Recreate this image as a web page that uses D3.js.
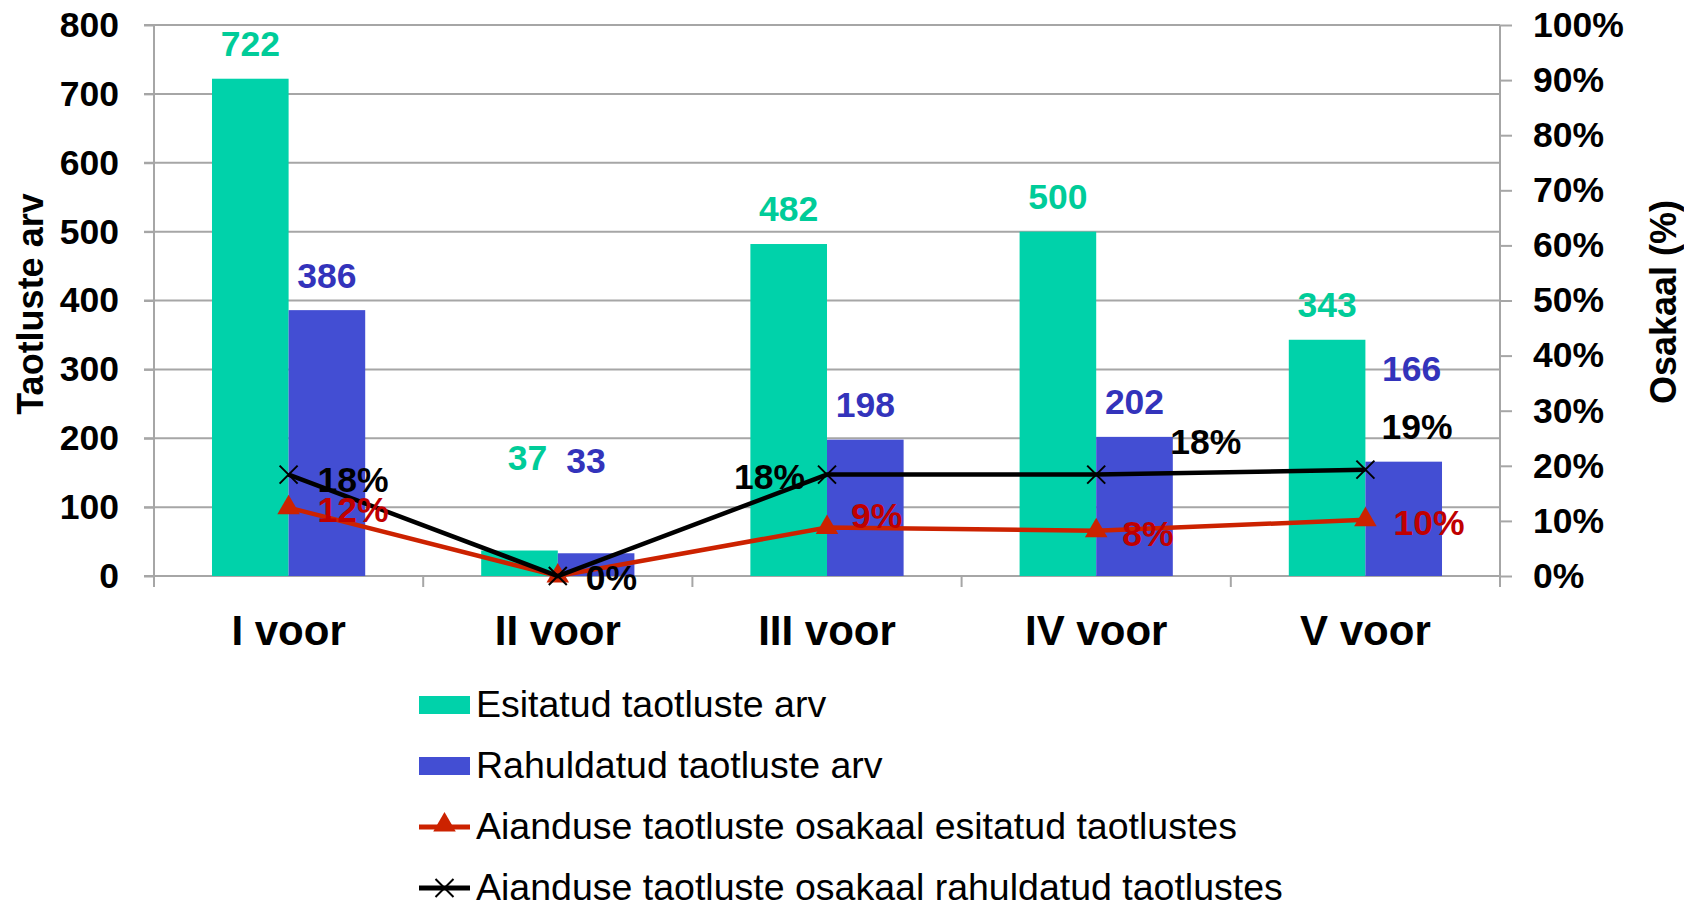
<!DOCTYPE html>
<html>
<head>
<meta charset="utf-8">
<script src="https://cdn.jsdelivr.net/npm/d3@7"></script>
<style>
  body { margin: 0; background: #fff; }
  text { font-family: "Liberation Sans", Arial, sans-serif; }
</style>
</head>
<body>
<svg id="chart" width="1684" height="910"></svg>
<script>
// data
var categories = ["I voor", "II voor", "III voor", "IV voor", "V voor"];
var esitatud = [722, 37, 482, 500, 343];
var rahuldatud = [386, 33, 198, 202, 166];
var osakaalEsitatud = [0.124, 0, 0.088, 0.082, 0.102];
var osakaalRahuldatud = [0.184, 0, 0.184, 0.184, 0.193];
var leftTicks = [0, 100, 200, 300, 400, 500, 600, 700, 800];
var rightTicks = [0, 0.1, 0.2, 0.3, 0.4, 0.5, 0.6, 0.7, 0.8, 0.9, 1];
var seriesNames = ["Esitatud taotluste arv", "Rahuldatud taotluste arv",
  "Aianduse taotluste osakaal esitatud taotlustes",
  "Aianduse taotluste osakaal rahuldatud taotlustes"];

var green = "#00d2aa", blue = "#434ed3", red = "#cc2200", grid = "#a6a6a6";

var svg = d3.select("#chart"),
    plotLeft = 154, plotRight = 1500, plotTop = 25, plotBottom = 576;

var y = d3.scaleLinear().domain([0, 800]).range([plotBottom, plotTop]);
var yR = d3.scaleLinear().domain([0, 1]).range([plotBottom, plotTop]);
var x0 = d3.scaleBand().domain(categories).range([plotLeft, plotRight]);
var x1 = d3.scaleBand().domain(["e", "r"]).range([0, x0.bandwidth()]).paddingOuter(0.757);
var cx = function(i) { return x0(categories[i]) + x0.bandwidth() / 2; };

// gridlines
svg.append("g").selectAll("line")
  .data(leftTicks).enter().append("line")
  .attr("x1", plotLeft - 10).attr("x2", plotRight)
  .attr("y1", function(d) { return y(d); }).attr("y2", function(d) { return y(d); })
  .attr("stroke", grid).attr("stroke-width", 2);

// left axis
var gl = svg.append("g").attr("transform", "translate(" + plotLeft + ",0)")
  .call(d3.axisLeft(y).tickValues(leftTicks).tickSize(10).tickPadding(25));
// right axis
var gr = svg.append("g").attr("transform", "translate(" + plotRight + ",0)")
  .call(d3.axisRight(yR).tickValues(rightTicks).tickFormat(d3.format(".0%")).tickSize(12).tickPadding(21));
[gl, gr].forEach(function(g) {
  g.selectAll("path, line").attr("stroke", grid).attr("stroke-width", 2);
  g.selectAll("text").attr("font-size", 35.5).attr("font-weight", "bold").attr("fill", "#000");
  g.select(".domain").attr("d", "M0," + (plotBottom + 10) + "V" + plotTop);
});

// category axis
var gb = svg.append("g").attr("transform", "translate(0," + plotBottom + ")")
  .call(d3.axisBottom(x0).tickSize(0).tickPadding(39));
gb.select(".domain").remove();
gb.selectAll("text").attr("font-size", 42).attr("font-weight", "bold").attr("fill", "#000");
svg.append("g").selectAll("line")
  .data(categories.map(function(c) { return x0(c); }).concat([plotRight]))
  .enter().append("line")
  .attr("x1", function(d) { return d; }).attr("x2", function(d) { return d; })
  .attr("y1", plotBottom).attr("y2", plotBottom + 11)
  .attr("stroke", grid).attr("stroke-width", 2);

// bars
var bars = svg.append("g");
bars.selectAll(".e").data(esitatud).enter().append("rect")
  .attr("x", function(d, i) { return x0(categories[i]) + x1("e"); })
  .attr("width", x1.bandwidth())
  .attr("y", function(d) { return y(d); })
  .attr("height", function(d) { return plotBottom - y(d); })
  .attr("fill", green);
bars.selectAll(".r").data(rahuldatud).enter().append("rect")
  .attr("x", function(d, i) { return x0(categories[i]) + x1("r"); })
  .attr("width", x1.bandwidth())
  .attr("y", function(d) { return y(d); })
  .attr("height", function(d) { return plotBottom - y(d); })
  .attr("fill", blue);

// lines
var triangle = d3.symbol().type(d3.symbolTriangle).size(220)();
var cross = "M-9,-9L9,9M-9,9L9,-9";
var line = d3.line().x(function(d, i) { return cx(i); }).y(function(d) { return yR(d); });

svg.append("path").datum(osakaalEsitatud)
  .attr("d", line).attr("fill", "none").attr("stroke", red).attr("stroke-width", 4.5);
svg.append("g").selectAll("path").data(osakaalEsitatud).enter().append("path")
  .attr("d", triangle).attr("fill", red)
  .attr("transform", function(d, i) { return "translate(" + cx(i) + "," + yR(d) + ")"; });

svg.append("path").datum(osakaalRahuldatud)
  .attr("d", line).attr("fill", "none").attr("stroke", "#000").attr("stroke-width", 4.5);
svg.append("g").selectAll("path").data(osakaalRahuldatud).enter().append("path")
  .attr("d", cross).attr("stroke", "#000").attr("stroke-width", 2).attr("fill", "none")
  .attr("transform", function(d, i) { return "translate(" + cx(i) + "," + yR(d) + ")"; });

// bar value labels (a few were moved by hand in the original)
var lift = { "e1": 58, "r1": 58, "r4": 58 };
var shift = { "e1": 8, "r1": -10, "r4": 8 };
function barLabels(data, key, color) {
  svg.append("g").selectAll("text").data(data).enter().append("text")
    .attr("x", function(d, i) { return x0(categories[i]) + x1(key) + x1.bandwidth() / 2 + (shift[key + i] || 0); })
    .attr("y", function(d, i) { return y(d) - 35 - (lift[key + i] || 0); })
    .attr("dy", "0.35em")
    .attr("text-anchor", "middle")
    .attr("font-size", 35.5).attr("font-weight", "bold").attr("fill", color)
    .text(function(d) { return d; });
}
barLabels(esitatud, "e", "#00cc99");
barLabels(rahuldatud, "r", "#3333bb");

// percent labels, placed like the original (dx, dy, anchor)
var pctFmt = d3.format(".0%");
var redPos = [[29, 2, "start"], null, [24, -12, "start"], [26, 3, "start"], [28, 3, "start"]];
var blackPos = [[29, 5, "start"], [28, 2, "start"], [-22, 2, "end"], [74, -33, "start"], [16, -43, "start"]];
[[osakaalEsitatud, redPos, "#c00000"], [osakaalRahuldatud, blackPos, "#000"]].forEach(function(s) {
  var g = svg.append("g");
  s[0].forEach(function(d, i) {
    var p = s[1][i];
    if (!p) return;
    g.append("text")
      .attr("x", cx(i) + p[0])
      .attr("y", yR(d) + p[1])
      .attr("dy", "0.35em")
      .attr("text-anchor", p[2])
      .attr("font-size", 35.5).attr("font-weight", "bold").attr("fill", s[2])
      .text(pctFmt(d));
  });
});

// axis titles
svg.append("text")
  .attr("transform", "translate(30,304) rotate(-90)")
  .attr("text-anchor", "middle").attr("dy", "0.35em")
  .attr("font-size", 36).attr("font-weight", "bold")
  .text("Taotluste arv");
svg.append("text")
  .attr("transform", "translate(1663,302) rotate(-90)")
  .attr("text-anchor", "middle").attr("dy", "0.35em")
  .attr("font-size", 36).attr("font-weight", "bold")
  .text("Osakaal (%)");

// legend
var legend = svg.append("g").attr("transform", "translate(419,705)");
var rows = legend.selectAll("g").data(seriesNames).enter().append("g")
  .attr("transform", function(d, i) { return "translate(0," + i * 61 + ")"; });
rows.filter(function(d, i) { return i < 2; }).append("rect")
  .attr("x", 0).attr("y", -9).attr("width", 51).attr("height", 18)
  .attr("fill", function(d, i) { return i === 0 ? green : blue; });
rows.filter(function(d, i) { return i >= 2; }).append("line")
  .attr("x1", 0).attr("x2", 51).attr("y1", 0).attr("y2", 0)
  .attr("stroke", function(d, i) { return i === 0 ? red : "#000"; })
  .attr("stroke-width", 5);
rows.filter(function(d, i) { return i === 2; }).append("path")
  .attr("d", triangle).attr("fill", red).attr("transform", "translate(25.5,-2)");
rows.filter(function(d, i) { return i === 3; }).append("path")
  .attr("d", cross).attr("stroke", "#000").attr("stroke-width", 2)
  .attr("transform", "translate(25.5,0)");
rows.append("text")
  .attr("x", 57).attr("dy", "0.33em")
  .attr("font-size", 37.5).attr("fill", "#000")
  .text(function(d) { return d; });
</script>
</body>
</html>
